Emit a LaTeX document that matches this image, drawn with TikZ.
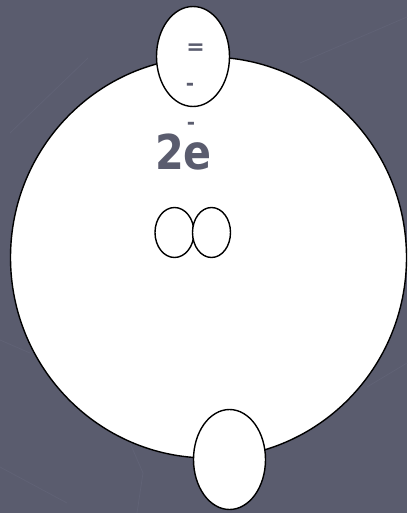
\documentclass[tikz,border=0pt]{standalone}
\usepackage{fontspec}
\setmainfont{DejaVu Sans}
\usepackage{tikz}
\definecolor{slate}{HTML}{5A5C6E}
\definecolor{slateline}{HTML}{606275}
\tikzset{blob/.style={draw=black,line width=1.4pt,fill=white},
  streak/.style={slateline,line width=0.8pt},
  greytext/.style={text=slate,font=\bfseries\fontsize{#1}{#1}\selectfont}}
\begin{document}
\begin{tikzpicture}[x=1pt,y=-1pt]
\fill[slate] (0,0) rectangle (407,513);
\useasboundingbox (0,0) rectangle (407,513);
% faint streaks of the backdrop
\draw[streak] (10,133) -- (88,58);
\draw[streak] (300,63) -- (407,17);
\draw[streak] (367,387) -- (407,363);
\draw[streak] (0,340) -- (30,353);
\draw[streak] (0,467) -- (67,503);
\draw[streak] (130,443) -- (143,473) -- (137,513);
% shapes
\draw[blob] (208.5,257.5) ellipse (198 and 200.5);
\draw[blob] (193,56.5) ellipse (36.5 and 50);
\draw[blob] (229.5,459.5) ellipse (36 and 50);
\draw[blob] (174.5,232.5) ellipse (19.5 and 25);
\draw[blob] (211.5,232.5) ellipse (19 and 25);
% texts
\node[greytext=22] (eq) at (195.5,49.5) {=};
\node[greytext=20] (dashA) at (190,87) {-};
\node[greytext=20] (dashB) at (191,126) {-};
\node[greytext=48,xscale=0.86,transform shape] (charge) at (183.5,152) {2e};
\end{tikzpicture}
\end{document}
